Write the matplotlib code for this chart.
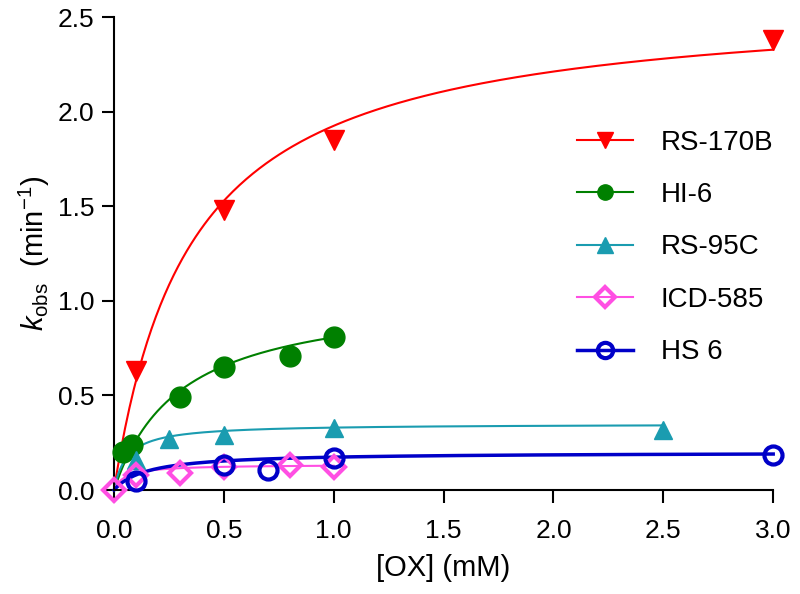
import numpy as np
import matplotlib
matplotlib.use("Agg")
import matplotlib.pyplot as plt

plt.rcParams['font.family'] = ['Liberation Sans', 'DejaVu Sans']
plt.rcParams['mathtext.fontset'] = 'custom'
plt.rcParams['mathtext.rm'] = 'Liberation Sans'
plt.rcParams['mathtext.it'] = 'Liberation Sans:italic'

# measured points
rs170b_x = [0.1, 0.5, 1.0, 3.0]
rs170b_y = [0.63, 1.48, 1.85, 2.38]

hi6_x = [0.04, 0.08, 0.3, 0.5, 0.8, 1.0]
hi6_y = [0.20, 0.24, 0.49, 0.65, 0.71, 0.81]

rs95c_x = [0.1, 0.25, 0.5, 1.0, 2.5]
rs95c_y = [0.16, 0.27, 0.29, 0.33, 0.32]

icd585_x = [0.0, 0.1, 0.3, 0.5, 0.8, 1.0]
icd585_y = [0.0, 0.08, 0.09, 0.12, 0.13, 0.12]

hs6_x = [0.1, 0.5, 0.7, 1.0, 3.0]
hs6_y = [0.05, 0.13, 0.105, 0.17, 0.185]

# hyperbolic fit parameters (kmax, KD, x range end)
fits = {
    'RS-170B': (2.6, 0.35, 3.0),
    'HI-6': (1.05, 0.30, 1.0),
    'RS-95C': (0.35, 0.06, 2.5),
    'ICD-585': (0.135, 0.05, 1.0),
    'HS 6': (0.20, 0.15, 3.0),
}

# name, x, y, colour, marker, filled, line width, marker size, legend marker size
series = [
    ('RS-170B', rs170b_x, rs170b_y, '#ff0000', 'v', True, 1.5, 14, 12),
    ('HI-6', hi6_x, hi6_y, '#008000', 'o', True, 1.5, 15, 11),
    ('RS-95C', rs95c_x, rs95c_y, '#1a9cb0', '^', True, 1.5, 13, 12),
    ('ICD-585', icd585_x, icd585_y, '#ff4fe3', 'D', False, 1.5, 11, 10),
    ('HS 6', hs6_x, hs6_y, '#0000c8', 'o', False, 2.5, 13, 11),
]

fig = plt.figure(figsize=(8, 5.94), dpi=100)
ax = fig.add_axes([0.1425, 0.175, 0.824, 0.796])

for name, xs, ys, col, mk, filled, lw, ms, lms in series:
    kmax, kd, xend = fits[name]
    xf = np.linspace(0, xend, 300)
    yf = kmax * xf / (kd + xf)
    ax.plot(xf, yf, color=col, lw=lw, clip_on=False)
    if filled:
        ax.plot(xs, ys, linestyle='none', marker=mk, ms=ms, color=col, clip_on=False, zorder=3)
        ax.plot([], [], color=col, lw=1.5, marker=mk, ms=lms, label=name)
    else:
        ax.plot(xs, ys, linestyle='none', marker=mk, ms=ms, mfc='none', mec=col, mew=3,
                clip_on=False, zorder=3)
        ax.plot([], [], color=col, lw=lw, marker=mk, ms=lms, mfc='none', mec=col, mew=3, label=name)

ax.set_xlim(0, 3.0)
ax.set_ylim(0, 2.5)
ax.set_xticks(np.arange(0, 3.01, 0.5))
ax.set_yticks(np.arange(0, 2.51, 0.5))
ax.set_xticklabels(['%.1f' % v for v in np.arange(0, 3.01, 0.5)])
ax.set_yticklabels(['%.1f' % v for v in np.arange(0, 2.51, 0.5)])
ax.spines['top'].set_visible(False)
ax.spines['right'].set_visible(False)
for s in ['left', 'bottom']:
    ax.spines[s].set_linewidth(1.5)
ax.tick_params(direction='out', length=9, width=1.5, labelsize=19, pad=5)
ax.tick_params(axis='x', pad=12)

ax.set_xlabel('[OX] (mM)', fontsize=21, labelpad=8)
ax.set_ylabel(r'$\mathit{k}_{\mathrm{obs}}$  (min$^{-1}$)', fontsize=21, labelpad=4)

ax.legend(loc='upper left', bbox_to_anchor=(0.665, 0.815), frameon=False, fontsize=20,
          handlelength=2.0, labelspacing=0.95, handletextpad=1.0)

fig.savefig('out.png', dpi=100)
